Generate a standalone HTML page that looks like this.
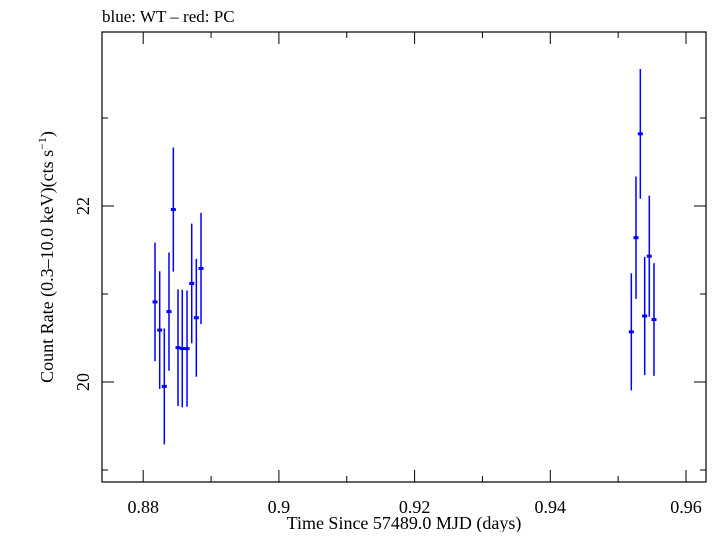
<!DOCTYPE html>
<html><head><meta charset="utf-8"><style>
body{margin:0;background:#fff}
svg text{font-family:"Liberation Serif",serif;fill:#000}
</style></head><body>
<svg width="719" height="532" viewBox="0 0 719 532" xmlns="http://www.w3.org/2000/svg">
<text x="102" y="22" font-size="17">blue: WT – red: PC</text>
<rect x="102" y="32" width="604" height="450" fill="none" stroke="#000" stroke-width="1.2"/>
<g id="ticks"></g>
<g id="marks"></g>
<text x="404" y="529" font-size="18" text-anchor="middle">Time Since 57489.0 MJD (days)</text>
<text transform="translate(53,257) rotate(-90)" font-size="18" text-anchor="middle">Count Rate (0.3–10.0 keV)(cts s<tspan font-size="12" dy="-7">−1</tspan><tspan dy="7">)</tspan></text>
</svg>
<script>
const times=[0.88174,0.88243,0.88311,0.8838,0.88444,0.88513,0.88576,0.88646,0.88715,0.88783,0.88852,0.95194,0.95263,0.95327,0.95391,0.95459,0.95528];
const rates=[20.91,20.59,19.95,20.80,21.96,20.39,20.38,20.38,21.12,20.73,21.29,20.57,21.64,22.82,20.75,21.43,20.71];
const errors=[0.674,0.668,0.659,0.672,0.705,0.663,0.668,0.66,0.68,0.67,0.632,0.665,0.695,0.737,0.672,0.688,0.64];
const xTickLabels=["0.88","0.9","0.92","0.94","0.96"];
const xTickValues=[0.88,0.9,0.92,0.94,0.96];
const yTickLabels=["20","22"];
const yTickValues=[20,22];
const NS="http://www.w3.org/2000/svg";
function xs(t){return 143.2+(t-0.88)*6785;}
function ys(v){return 206-(v-22)*88;}
function mk(tag,attrs,parent){const e=document.createElementNS(NS,tag);for(const k in attrs)e.setAttribute(k,attrs[k]);parent.appendChild(e);return e;}
const tg=document.getElementById('ticks');
for(let t=0.87;t<=0.97;t+=0.01){const x=xs(t);if(x<102||x>706)continue;
 const major=Math.abs(Math.round(t*100)%2)===0;const L=major?12:6;
 const a=mk('line',{x1:x,x2:x,y1:482,y2:482-L,stroke:'#000','stroke-width':1},tg);
 
 const b=mk('line',{x1:x,x2:x,y1:32,y2:32+L,stroke:'#000','stroke-width':1},tg);
 }
xTickValues.forEach((v,i)=>{const t=mk('text',{x:xs(v),y:513,'font-size':18,'text-anchor':'middle'},tg);t.textContent=xTickLabels[i];
 });
for(let v=19;v<=23;v+=1){const y=ys(v);const L=(v%2===0)?12:6;
 const a=mk('line',{x1:102,x2:102+L,y1:y,y2:y,stroke:'#000','stroke-width':1},tg);
 
 const b=mk('line',{x1:706,x2:706-L,y1:y,y2:y,stroke:'#000','stroke-width':1},tg);
 }
yTickValues.forEach((v,i)=>{const t=mk('text',{transform:`translate(89,${ys(v)}) rotate(-90)`,'font-size':18,'text-anchor':'middle'},tg);t.textContent=yTickLabels[i];
 });
const mg=document.getElementById('marks');
times.forEach((t,i)=>{const x=xs(t),y=ys(rates[i]);
 const e=mk('line',{x1:x,x2:x,y1:ys(rates[i]+errors[i]),y2:ys(rates[i]-errors[i]),stroke:'#0000ff','stroke-width':1.5},mg);
 
 const p=mk('rect',{x:x-2.5,y:y-1.5,width:5,height:3,fill:'#0000ff'},mg);
 });
</script>
</body></html>
